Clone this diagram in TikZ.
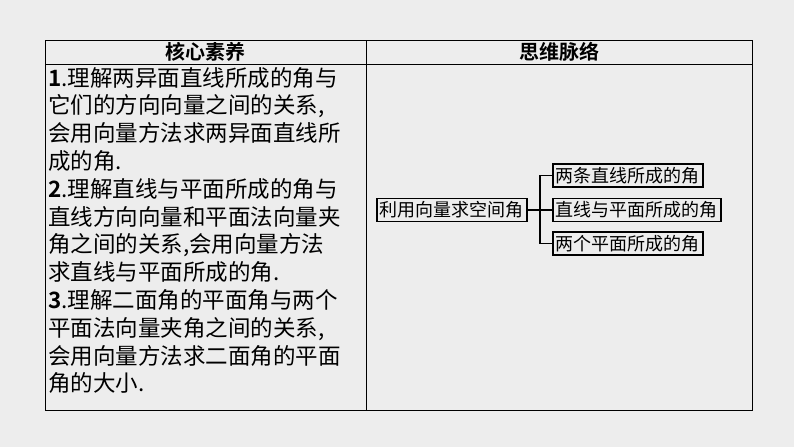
\documentclass[tikz,border=0pt]{standalone}
\usepackage{fontspec}
\newfontfamily\cjk{Noto Sans CJK SC}[BoldFont={Noto Sans CJK SC Bold}]
\begin{document}
\begin{tikzpicture}[x=1pt,y=-1pt,
  box/.style={draw,line width=1.5pt,inner xsep=3pt,inner ysep=3pt,font=\cjk\fontsize{18}{20}\selectfont,anchor=west},
  conn/.style={line width=1.5pt}]
\fill[gray!14] (0,0) rectangle (794,447);
\useasboundingbox (0,0) rectangle (794,447);
\draw[line width=0.8pt] (45,40) rectangle (752,410);
\draw[line width=0.8pt] (45,64) -- (752,64);
\draw[line width=0.8pt] (366,40) -- (366,410);
\node[font=\cjk\bfseries\fontsize{20}{22}\selectfont] (h1) at (205,52) {核心素养};
\node[font=\cjk\bfseries\fontsize{20}{22}\selectfont] (h2) at (559,52) {思维脉络};
\node[anchor=north west,inner sep=0pt,align=left,font=\cjk\fontsize{22.5}{27.8}\selectfont] (txt) at (48,67) {%
\textbf{1}.理解两异面直线所成的角与\\
它们的方向向量之间的关系,\\
会用向量方法求两异面直线所\\
成的角.\\
\textbf{2}.理解直线与平面所成的角与\\
直线方向向量和平面法向量夹\\
角之间的关系,会用向量方法\\
求直线与平面所成的角.\\
\textbf{3}.理解二面角的平面角与两个\\
平面法向量夹角之间的关系,\\
会用向量方法求二面角的平面\\
角的大小.};
\node[box] (m) at (376,210) {利用向量求空间角};
\node[box] (a) at (552,175.5) {两条直线所成的角};
\node[box] (b) at (552,210) {直线与平面所成的角};
\node[box] (c) at (552,243.5) {两个平面所成的角};
\coordinate (j) at (540,210);
\draw[conn] (m.east) -- (m.east -| j);
\draw[conn] (a.west) -- (a.west -| j) -- (c.west -| j) -- (c.west);
\draw[conn] (b.west) -- (b.west -| j);
\end{tikzpicture}
\end{document}
